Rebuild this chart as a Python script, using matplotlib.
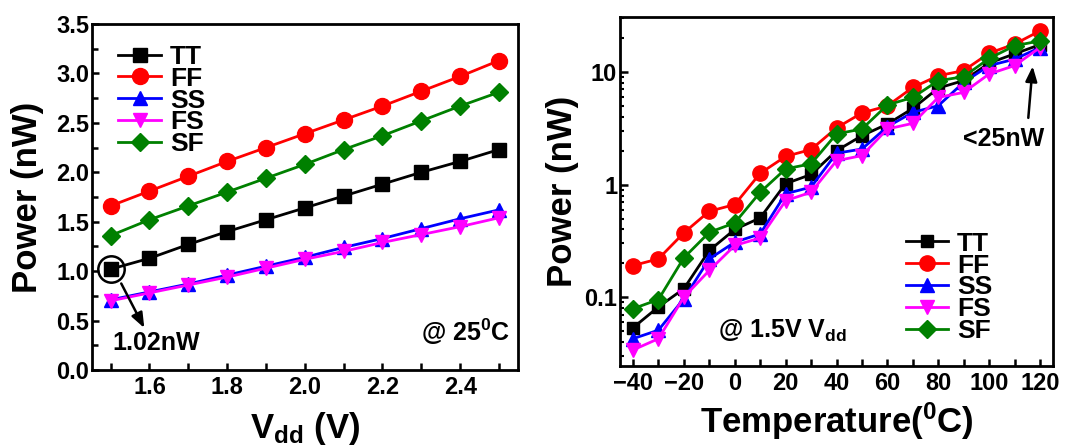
import matplotlib
matplotlib.use("Agg")
import matplotlib.pyplot as plt
from matplotlib.ticker import MultipleLocator, LogLocator, NullFormatter, FixedLocator, FixedFormatter

plt.rcParams["font.family"] = ["Liberation Sans", "DejaVu Sans"]
plt.rcParams["font.weight"] = "bold"
plt.rcParams["mathtext.fontset"] = "custom"
plt.rcParams["mathtext.rm"] = "Liberation Sans:bold"
plt.rcParams["mathtext.bf"] = "Liberation Sans:bold"
plt.rcParams["mathtext.it"] = "Liberation Sans:bold"
plt.rcParams["mathtext.default"] = "rm"

# ---- supply sweep at 25 C ----
vdd = [1.5, 1.6, 1.7, 1.8, 1.9, 2.0, 2.1, 2.2, 2.3, 2.4, 2.5]
p_tt_v = [1.02, 1.13, 1.27, 1.40, 1.52, 1.64, 1.76, 1.88, 2.00, 2.11, 2.23]
p_ff_v = [1.66, 1.81, 1.96, 2.11, 2.25, 2.39, 2.53, 2.67, 2.82, 2.97, 3.13]
p_ss_v = [0.71, 0.79, 0.87, 0.96, 1.05, 1.14, 1.24, 1.33, 1.43, 1.53, 1.62]
p_fs_v = [0.70, 0.78, 0.86, 0.94, 1.03, 1.12, 1.20, 1.29, 1.37, 1.45, 1.54]
p_sf_v = [1.36, 1.52, 1.66, 1.80, 1.94, 2.08, 2.23, 2.37, 2.52, 2.67, 2.81]

# ---- temperature sweep at 1.5 V ----
temp = [-40, -30, -20, -10, 0, 10, 20, 30, 40, 50, 60, 70, 80, 90, 100, 110, 120]
p_tt_t = [0.0535, 0.082, 0.119, 0.26, 0.40, 0.506, 1.02, 1.23, 2.0, 2.72, 3.45, 4.75, 7.2, 8.4, 12.0, 14.5, 17.5]
p_ff_t = [0.191, 0.219, 0.373, 0.58, 0.665, 1.26, 1.78, 2.05, 3.19, 4.33, 5.0, 7.3, 9.27, 10.3, 14.7, 17.7, 23.2]
p_ss_t = [0.0428, 0.051, 0.097, 0.219, 0.308, 0.365, 0.83, 0.95, 1.90, 2.07, 3.27, 4.38, 5.02, 8.1, 11.4, 13.0, 16.5]
p_fs_t = [0.034, 0.0428, 0.10, 0.173, 0.288, 0.336, 0.72, 0.855, 1.63, 1.81, 3.12, 3.5, 5.95, 6.59, 9.6, 11.4, 16.5]
p_sf_t = [0.079, 0.0954, 0.224, 0.377, 0.457, 0.855, 1.38, 1.53, 2.82, 3.12, 5.1, 5.95, 8.37, 9.09, 13.2, 17.1, 18.9]

corners = ["TT", "FF", "SS", "FS", "SF"]
colors = ["black", "red", "blue", "magenta", "green"]
markers = ["s", "o", "^", "v", "D"]
sizes = [9.5, 11.5, 10.5, 10.5, 9.5]

W, H = 1067, 446
fig = plt.figure(figsize=(W / 100, H / 100), dpi=100)


def frac(x0, y0, x1, y1):
    return [x0 / W, 1 - y1 / H, (x1 - x0) / W, (y1 - y0) / H]


def style_axes(ax):
    for s in ax.spines.values():
        s.set_linewidth(2.0)
    ax.tick_params(which="both", direction="in", top=False, right=False,
                   width=1.8, labelsize=17, pad=4)
    ax.tick_params(which="major", length=5)
    for lab in ax.get_xticklabels() + ax.get_yticklabels():
        lab.set_fontweight("bold")


legend_kw = dict(frameon=False, prop={"size": 19, "weight": "bold"},
                 handlelength=1.6, handletextpad=0.35, labelspacing=-0.08,
                 borderpad=0, borderaxespad=0, loc="upper left")

# ---------------- left panel ----------------
ax1 = fig.add_axes(frac(92, 24, 518, 370))
series_v = [p_tt_v, p_ff_v, p_ss_v, p_fs_v, p_sf_v]
for name, ys, c, m, ms in zip(corners, series_v, colors, markers, sizes):
    ax1.plot(vdd, ys, color=c, marker=m, markersize=ms, lw=2.0,
             markeredgecolor=c, label=name)
ax1.set_xlim(1.452, 2.549)
ax1.set_ylim(0, 3.5)
ax1.xaxis.set_major_locator(FixedLocator([1.6, 1.8, 2.0, 2.2, 2.4]))
ax1.xaxis.set_major_formatter(FixedFormatter(["1.6", "1.8", "2.0", "2.2", "2.4"]))
ax1.xaxis.set_minor_locator(FixedLocator(vdd))
ax1.yaxis.set_major_locator(MultipleLocator(0.5))
ax1.yaxis.set_minor_locator(MultipleLocator(0.25))
ax1.yaxis.set_major_formatter(plt.FuncFormatter(lambda v, p: f"{v:.1f}"))
style_axes(ax1)
ax1.tick_params(which="minor", length=4, width=1.8)
ax1.tick_params(axis="x", which="minor", length=5)
ax1.tick_params(axis="y", pad=2)
ax1.set_xlabel(r"V$_{\mathregular{dd}}$ (V)", fontsize=25, fontweight="bold", labelpad=8)
ax1.set_ylabel("Power (nW)", fontsize=25, fontweight="bold", labelpad=9)

ax1.legend(bbox_to_anchor=(0.062, 0.94), **legend_kw)

# highlighted minimum point
ax1.plot([vdd[0]], [p_tt_v[0]], marker="o", markersize=19, markerfacecolor="none",
         markeredgecolor="black", markeredgewidth=1.8, linestyle="none")
ax1.annotate("", xy=(1.59, 0.40), xytext=(1.524, 0.90),
             arrowprops=dict(arrowstyle="-|>,head_length=0.9,head_width=0.35",
                             color="black", lw=1.8))
ax1.text(1.618, 0.27, f"{p_tt_v[0]:.2f}nW", fontsize=18, fontweight="bold",
         ha="center", va="center")
ax1.text(0.982, 0.11, r"@ 25$^{\mathregular{0}}$C", transform=ax1.transAxes,
         fontsize=18, fontweight="bold", ha="right", va="center")

# ---------------- right panel ----------------
ax2 = fig.add_axes(frac(620, 17, 1053, 366))
series_t = [p_tt_t, p_ff_t, p_ss_t, p_fs_t, p_sf_t]
for name, ys, c, m, ms in zip(corners, series_t, colors, markers, sizes):
    ax2.plot(temp, ys, color=c, marker=m, markersize=ms - 0.5, lw=2.0,
             markeredgecolor=c, label=name)
ax2.set_yscale("log")
ax2.set_xlim(-45.1, 125.1)
ax2.set_ylim(0.0245, 30.8)
ax2.xaxis.set_major_locator(MultipleLocator(20))
ax2.xaxis.set_minor_locator(MultipleLocator(10))
ax2.yaxis.set_major_locator(FixedLocator([0.1, 1, 10]))
ax2.yaxis.set_major_formatter(FixedFormatter(["0.1", "1", "10"]))
ax2.yaxis.set_minor_locator(LogLocator(base=10, subs=range(2, 10)))
ax2.yaxis.set_minor_formatter(NullFormatter())
style_axes(ax2)
ax2.tick_params(axis="x", which="minor", length=5, width=1.8)
ax2.tick_params(axis="y", which="minor", length=3, width=1.5)
ax2.tick_params(axis="y", which="major", length=6, pad=2)
ax2.set_xlabel(r"Temperature($^{\mathregular{0}}$C)", fontsize=25, fontweight="bold", labelpad=4)
ax2.set_ylabel("Power (nW)", fontsize=25, fontweight="bold", labelpad=4)

ax2.legend(bbox_to_anchor=(0.66, 0.385), **legend_kw)

ax2.annotate("", xy=(117.2, 11.9), xytext=(115.3, 3.7),
             arrowprops=dict(arrowstyle="-|>,head_length=0.9,head_width=0.35",
                             color="black", lw=1.8))
ax2.text(105.8, 2.56, "<25nW", fontsize=18, fontweight="bold",
         ha="center", va="center")
ax2.text(-6.6, 0.0507, r"@ 1.5V V$_{\mathregular{dd}}$", fontsize=18,
         fontweight="bold", ha="left", va="center")

fig.savefig("out.png", dpi=100)
